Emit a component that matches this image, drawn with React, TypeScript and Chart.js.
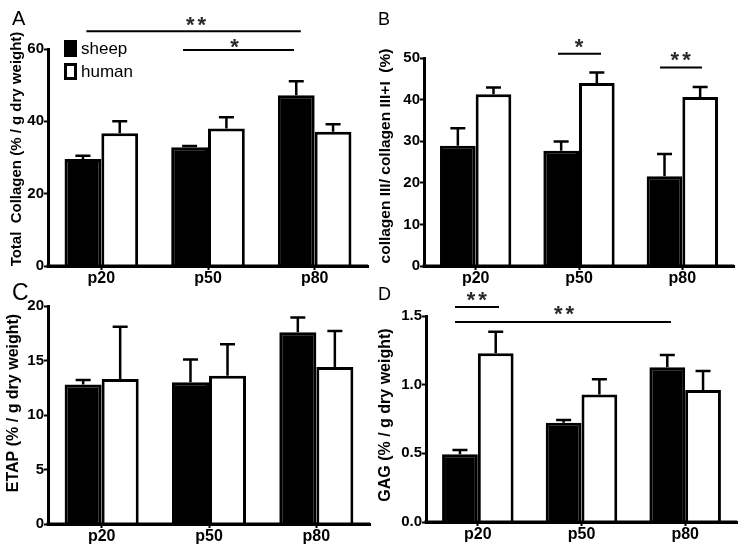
import React, { useEffect, useRef } from 'react';
import { Chart, registerables } from 'chart.js';

Chart.register(...registerables);

// ---------- data ----------
const categories = ['p20', 'p50', 'p80'];
const seriesNames = ['sheep', 'human'];

const collagenSheep = [29.6, 32.8, 47.2];
const collagenSheepSem = [0.9, 0.4, 3.9];
const collagenHuman = [36.7, 38.0, 37.1];
const collagenHumanSem = [3.3, 3.1, 2.1];

const ratioSheep = [28.9, 27.7, 21.6];
const ratioSheepSem = [4.2, 2.2, 5.3];
const ratioHuman = [41.3, 44.0, 40.6];
const ratioHumanSem = [1.6, 2.5, 2.4];

const etapSheep = [12.8, 13.0, 17.6];
const etapSheepSem = [0.4, 2.1, 1.35];
const etapHuman = [13.3, 13.6, 14.4];
const etapHumanSem = [4.8, 2.9, 3.3];

const gagSheep = [0.494, 0.722, 1.126];
const gagSheepSem = [0.03, 0.02, 0.09];
const gagHuman = [1.228, 0.929, 0.961];
const gagHumanSem = [0.158, 0.11, 0.138];

// significance brackets (x in category-index units, y in data units)
const collagenSig = [
  { from: -0.14, to: 1.87, y: 64.9, label: '**', labelX: 0.888, labelY: 67.4 },
  { from: 0.766, to: 1.806, y: 59.7, label: '*', labelX: 1.262, labelY: 61.3 },
];
const ratioSig = [
  { from: 0.797, to: 1.213, y: 51.0, label: '*', labelX: 1.016, labelY: 53.4 },
  { from: 1.784, to: 2.19, y: 47.7, label: '**', labelX: 1.984, labelY: 50.1 },
];
const etapSig: any[] = [];
const gagSig = [
  { from: -0.22, to: 0.204, y: 1.566, label: '**', labelX: -0.011, labelY: 1.639 },
  { from: -0.22, to: 1.863, y: 1.457, label: '**', labelX: 0.831, labelY: 1.537 },
];

const FONT = '"Liberation Sans", Arial, Helvetica, sans-serif';

type PanelProps = {
  letter: string;
  letterSize: number;
  letterX: number;
  title: string;
  titleSize: number;
  titleX: number;
  titleY: number;
  sheep: number[];
  sheepSem: number[];
  human: number[];
  humanSem: number[];
  yMax: number;
  step: number;
  decimals: number;
  sig: any[];
  legend: boolean;
  left: number;
  top: number;
  width: number;
  height: number;
  area: { l: number; t: number; r: number; b: number };
};

function Panel(p: PanelProps) {
  const ref = useRef<HTMLCanvasElement | null>(null);
  useEffect(() => {
    const canvas = ref.current;
    if (!canvas) return;

    const overlay = {
      id: 'overlay',
      afterDatasetsDraw(chart: any) {
        const ctx = chart.ctx;
        const ys = chart.scales.y;
        const ca = chart.chartArea;
        // error bars (upper whisker only)
        chart.data.datasets.forEach((ds: any, di: number) => {
          const meta = chart.getDatasetMeta(di);
          meta.data.forEach((el: any, i: number) => {
            const top = ys.getPixelForValue(ds.data[i] + ds.errors[i]);
            ctx.save();
            ctx.strokeStyle = '#000';
            ctx.lineWidth = 2.5;
            ctx.beginPath();
            ctx.moveTo(el.x, el.y);
            ctx.lineTo(el.x, top);
            ctx.moveTo(el.x - 7.5, top);
            ctx.lineTo(el.x + 7.5, top);
            ctx.stroke();
            ctx.restore();
          });
        });
        // redraw x axis line over bars
        ctx.save();
        ctx.strokeStyle = '#000';
        ctx.lineWidth = 3;
        ctx.beginPath();
        ctx.moveTo(ca.left - 1.5, ca.bottom);
        ctx.lineTo(ca.right, ca.bottom);
        ctx.stroke();
        ctx.restore();
      },
      afterDraw(chart: any) {
        const ctx = chart.ctx;
        const ys = chart.scales.y;
        const xs = chart.scales.x;
        ctx.save();
        // panel letter
        ctx.fillStyle = '#000';
        ctx.font = `${p.letterSize}px ${FONT}`;
        ctx.textAlign = 'left';
        ctx.textBaseline = 'alphabetic';
        ctx.fillText(p.letter, p.letterX, 25);
        // y title
        ctx.save();
        ctx.translate(p.titleX, p.titleY);
        ctx.rotate(-Math.PI / 2);
        ctx.font = `bold ${p.titleSize}px ${FONT}`;
        ctx.textAlign = 'center';
        ctx.textBaseline = 'middle';
        ctx.fillText(p.title, 0, 0);
        ctx.restore();
        // significance
        p.sig.forEach((s: any) => {
          const x1 = xs.getPixelForValue(s.from);
          const x2 = xs.getPixelForValue(s.to);
          const y = ys.getPixelForValue(s.y);
          ctx.strokeStyle = '#000';
          ctx.lineWidth = 2;
          ctx.beginPath();
          ctx.moveTo(x1, y);
          ctx.lineTo(x2, y);
          ctx.stroke();
          const size = 22;
          ctx.save();
          ctx.fillStyle = '#2a2a2a';
          ctx.font = `bold ${size}px ${FONT}`;
          (ctx as any).letterSpacing = '3px';
          ctx.textAlign = 'center';
          ctx.textBaseline = 'alphabetic';
          const cx = xs.getPixelForValue(s.labelX) + (s.label.length > 1 ? 1.5 : 0);
          ctx.fillText(s.label, cx, ys.getPixelForValue(s.labelY) + 0.45 * size);
          ctx.restore();
        });
        // legend
        if (p.legend) {
          ctx.fillStyle = '#000';
          ctx.fillRect(64, 40, 13, 17);
          ctx.strokeStyle = '#000';
          ctx.lineWidth = 3;
          ctx.strokeRect(65.5, 64.5, 10, 14);
          ctx.font = `17px ${FONT}`;
          ctx.textAlign = 'left';
          ctx.textBaseline = 'middle';
          ctx.fillText(seriesNames[0], 81, 49);
          ctx.fillText(seriesNames[1], 81, 72);
        }
        ctx.restore();
      },
    };

    const leftW = p.area.l;
    const bottomH = p.height - p.area.b;
    const chart = new Chart(canvas, {
      type: 'bar',
      data: {
        labels: categories,
        datasets: [
          {
            label: seriesNames[0],
            data: p.sheep,
            errors: p.sheepSem,
            backgroundColor: '#000',
            borderColor: '#000',
            borderWidth: 3,
            categoryPercentage: 0.69,
            barPercentage: 1,
          } as any,
          {
            label: seriesNames[1],
            data: p.human,
            errors: p.humanSem,
            backgroundColor: '#fff',
            borderColor: '#000',
            borderWidth: 3,
            categoryPercentage: 0.69,
            barPercentage: 1,
          } as any,
        ],
      },
      options: {
        animation: false,
        responsive: false,
        maintainAspectRatio: false,
        layout: { padding: { top: p.area.t, right: p.width - p.area.r, left: 0, bottom: 0 } },
        plugins: { legend: { display: false }, tooltip: { enabled: false } },
        scales: {
          x: {
            afterFit: (s: any) => { s.height = bottomH; },
            grid: { display: true, drawOnChartArea: false, offset: false, tickLength: 4, tickColor: '#000', tickWidth: 2 },
            border: { display: true, color: '#000', width: 3 },
            ticks: { color: '#000', padding: -1, font: { family: FONT, size: 16, weight: 'bold' } },
          },
          y: {
            min: 0,
            max: p.yMax,
            afterFit: (s: any) => { s.width = leftW; },
            grid: { display: true, drawOnChartArea: false, tickLength: 4, tickColor: '#000', tickWidth: 2 },
            border: { display: true, color: '#000', width: 3 },
            ticks: {
              stepSize: p.step,
              color: '#000',
              padding: 0,
              font: { family: FONT, size: 15, weight: 'bold' },
              callback: (v: any) => Number(v).toFixed(p.decimals),
            },
          },
        },
      },
      plugins: [overlay],
    } as any);
    return () => chart.destroy();
  }, []);
  return (
    <canvas
      ref={ref}
      width={p.width}
      height={p.height}
      style={{ position: 'absolute', left: p.left, top: p.top, width: p.width, height: p.height }}
    />
  );
}

export default function App() {
  return (
    <div style={{ position: 'absolute', left: 0, top: 0, width: 747, height: 555, background: '#fff', overflow: 'hidden' }}>
      <Panel
        letter="A" letterSize={20} letterX={12}
        title="Total  Collagen (% / g dry weight)" titleSize={15} titleX={17} titleY={149}
        sheep={collagenSheep} sheepSem={collagenSheepSem} human={collagenHuman} humanSem={collagenHumanSem}
        yMax={60} step={20} decimals={0} sig={collagenSig} legend={true}
        left={0} top={0} width={374} height={300} area={{ l: 48, t: 49, r: 368, b: 266 }}
      />
      <Panel
        letter="B" letterSize={18} letterX={4}
        title="collagen III/ collagen III+I  (%)" titleSize={15.5} titleX={12} titleY={156}
        sheep={ratioSheep} sheepSem={ratioSheepSem} human={ratioHuman} humanSem={ratioHumanSem}
        yMax={50} step={10} decimals={0} sig={ratioSig} legend={false}
        left={374} top={0} width={373} height={300} area={{ l: 50, t: 58, r: 360, b: 266 }}
      />
      <Panel
        letter="C" letterSize={23} letterX={12}
        title="ETAP (% / g dry weight)" titleSize={16} titleX={14} titleY={128}
        sheep={etapSheep} sheepSem={etapSheepSem} human={etapHuman} humanSem={etapHumanSem}
        yMax={20} step={5} decimals={0} sig={etapSig} legend={false}
        left={0} top={275} width={374} height={280} area={{ l: 48, t: 31, r: 370, b: 249 }}
      />
      <Panel
        letter="D" letterSize={18} letterX={4}
        title="GAG (% / g dry weight)" titleSize={16} titleX={12} titleY={140}
        sheep={gagSheep} sheepSem={gagSheepSem} human={gagHuman} humanSem={gagHumanSem}
        yMax={1.5} step={0.5} decimals={1} sig={gagSig} legend={false}
        left={374} top={275} width={373} height={280} area={{ l: 52, t: 41, r: 363, b: 247 }}
      />
    </div>
  );
}
